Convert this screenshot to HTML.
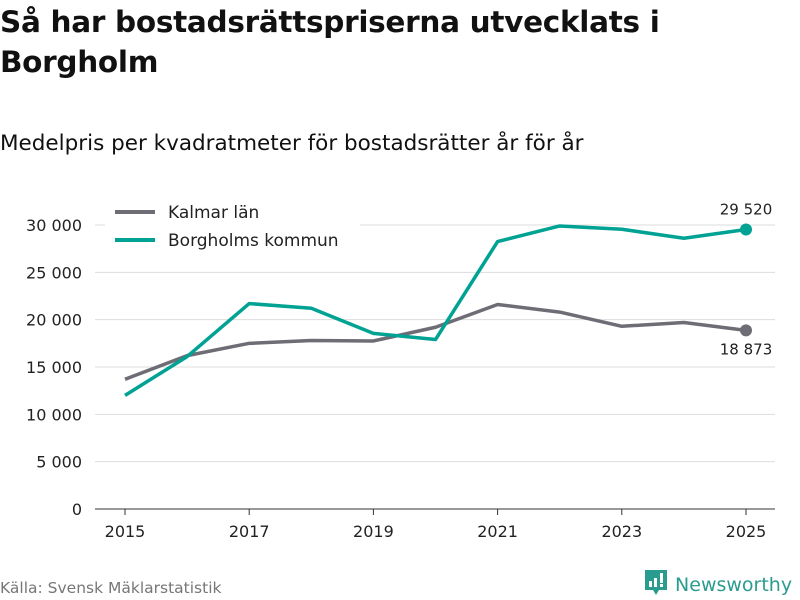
<!DOCTYPE html>
<html><head><meta charset="utf-8"><style>
body{margin:0;width:800px;height:600px;background:#fff;font-family:"DejaVu Sans","Liberation Sans",sans-serif;overflow:hidden;position:relative;color:#111}
.t{position:absolute;left:0;top:2px;font-weight:bold;font-size:29.5px;line-height:40px;letter-spacing:-0.3px;white-space:nowrap}
.s{position:absolute;left:0;top:131px;font-size:21.5px;white-space:nowrap}
.src{position:absolute;left:0;top:579px;font-size:15.5px;color:#777;white-space:nowrap}
.logo{position:absolute;left:645px;top:568px;font-size:19px;color:#2a9b8f;white-space:nowrap;width:160px}
</style></head><body>
<div class="t">Så har bostadsrättspriserna utvecklats i<br>Borgholm</div>
<div class="s">Medelpris per kvadratmeter för bostadsrätter år för år</div>
<svg width="800" height="600" style="position:absolute;left:0;top:0" id="c"></svg>
<div class="src">Källa: Svensk Mäklarstatistik</div>
<div class="logo"><svg width="24" height="30" style="vertical-align:-7px"><path d="M0 2h22v20h-8l-3 5-3-5H0z" fill="#2a9b8f"/><rect x="4" y="13" width="3" height="6" fill="#fff"/><rect x="9" y="10" width="3" height="9" fill="#fff"/><rect x="15" y="5" width="3" height="10" fill="#fff"/><rect x="15" y="16" width="3" height="3" fill="#fff"/></svg> Newsworthy</div>
<script>
const years=[2015,2016,2017,2018,2019,2020,2021,2022,2023,2024,2025];
const kalmar=[13700,16200,17500,17800,17750,19200,21600,20800,19300,19700,18873];
const borgholm=[12000,16100,21700,21200,18550,17900,28250,29900,29550,28600,29520];
const yTicks=[0,5000,10000,15000,20000,25000,30000];
const xTicks=[2015,2017,2019,2021,2023,2025];
const svg=document.getElementById('c');const NS='http://www.w3.org/2000/svg';
const X=y=>125+(y-2015)*62.1;const Y=v=>509-v*284/30000;
function el(t,a,txt){const e=document.createElementNS(NS,t);for(const k in a)e.setAttribute(k,a[k]);if(txt!=null)e.textContent=txt;svg.appendChild(e);return e;}
const fmt=v=>v.toLocaleString('en').replace(/,/g,' ');
yTicks.forEach(v=>{
const g=el('line',{x1:95,x2:775,y1:Y(v),y2:Y(v),stroke:v?'#ddd':'#333','stroke-width':1});


const t=el('text',{x:82,y:Y(v)+6,'text-anchor':'end','font-size':16,fill:'#222'},fmt(v));

});
xTicks.forEach(v=>{
const l=el('line',{x1:X(v),x2:X(v),y1:509,y2:515,stroke:'#333'});


const t=el('text',{x:X(v),y:537,'text-anchor':'middle','font-size':16,fill:'#222'},v);

});
function series(d,c,n){
const p=el('polyline',{points:d.map((v,i)=>X(years[i])+','+Y(v)).join(' '),fill:'none',stroke:c,'stroke-width':3.5,'stroke-linejoin':'round'});


const last=d.length-1;
const dot=el('circle',{cx:X(years[last]),cy:Y(d[last]),r:6,fill:c});

}
series(kalmar,'#6e6c75','kalmar');series(borgholm,'#00a294','borgholm');
let t1=el('text',{x:746,y:Y(borgholm[10])-15,'text-anchor':'middle','font-size':15,fill:'#222'},fmt(borgholm[10]));


let t2=el('text',{x:746,y:Y(kalmar[10])+24,'text-anchor':'middle','font-size':15,fill:'#222'},fmt(kalmar[10]));


const leg=el('rect',{x:105,y:196,width:255,height:62,fill:'#fff'});


[['Kalmar län','#6e6c75',212],['Borgholms kommun','#00a294',240]].forEach(([n,c,y])=>{
const l=el('line',{x1:115,x2:155,y1:y,y2:y,stroke:c,'stroke-width':4});


const t=el('text',{x:168,y:y+6,'font-size':17,fill:'#222'},n);

});
</script>
</body></html>
